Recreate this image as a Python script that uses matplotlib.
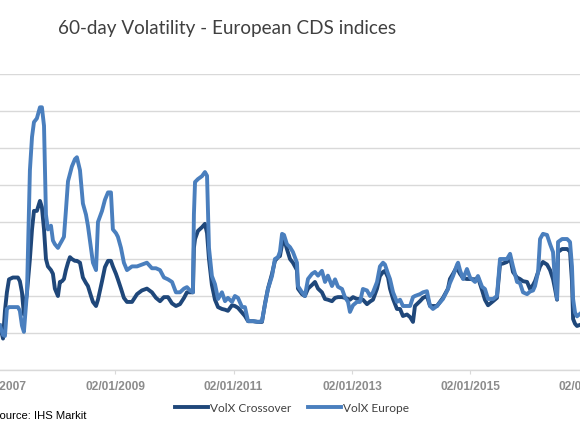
import pandas as pd
import matplotlib
matplotlib.use('Agg')
import matplotlib.pyplot as plt
import matplotlib.dates as mdates

# 60-day volatility
dates = [
    '2007-01-21', '2007-02-09', '2007-02-21', '2007-03-05', '2007-03-18', '2007-04-11',
    '2007-05-12', '2007-05-24', '2007-06-06', '2007-06-18', '2007-07-07', '2007-07-25',
    '2007-08-07', '2007-08-19', '2007-09-06', '2007-09-25', '2007-10-07', '2007-10-20',
    '2007-11-01', '2007-11-13', '2007-12-02', '2007-12-14', '2007-12-26', '2008-01-14',
    '2008-01-26', '2008-02-08', '2008-02-20', '2008-03-03', '2008-03-16', '2008-03-28',
    '2008-04-09', '2008-04-28', '2008-05-10', '2008-05-29', '2008-06-16', '2008-07-05',
    '2008-07-17', '2008-08-05', '2008-08-17', '2008-09-05', '2008-09-17', '2008-10-12',
    '2008-10-30', '2008-11-18', '2008-12-06', '2008-12-18', '2009-01-06', '2009-01-18',
    '2009-02-06', '2009-02-24', '2009-03-15', '2009-04-15', '2009-05-16', '2009-06-15',
    '2009-07-16', '2009-08-16', '2009-09-10', '2009-10-05', '2009-10-29', '2009-11-23',
    '2009-12-18', '2010-01-11', '2010-02-05', '2010-03-02', '2010-03-20', '2010-04-08',
    '2010-04-26', '2010-05-02', '2010-05-09', '2010-05-27', '2010-06-21', '2010-07-09',
    '2010-07-22', '2010-08-03', '2010-08-21', '2010-09-09', '2010-09-28', '2010-10-22',
    '2010-11-10', '2010-11-28', '2010-12-23', '2011-01-10', '2011-01-29', '2011-02-23',
    '2011-03-13', '2011-04-01', '2011-05-02', '2011-06-01', '2011-06-26', '2011-07-15',
    '2011-08-02', '2011-08-27', '2011-09-14', '2011-10-03', '2011-10-15', '2011-10-28',
    '2011-11-09', '2011-11-27', '2011-12-16', '2012-01-03', '2012-01-28', '2012-02-03',
    '2012-02-28', '2012-03-17', '2012-04-05', '2012-04-30', '2012-05-18', '2012-06-06',
    '2012-06-30', '2012-07-19', '2012-08-06', '2012-08-31', '2012-09-19', '2012-10-07',
    '2012-11-01', '2012-11-19', '2012-12-08', '2012-12-20', '2013-01-08', '2013-02-01',
    '2013-02-20', '2013-03-10', '2013-04-04', '2013-04-23', '2013-05-11', '2013-06-05',
    '2013-06-23', '2013-07-12', '2013-07-24', '2013-08-12', '2013-08-24', '2013-09-12',
    '2013-10-06', '2013-10-25', '2013-11-12', '2013-12-07', '2013-12-26', '2014-01-13',
    '2014-01-25', '2014-02-25', '2014-03-16', '2014-04-09', '2014-04-28', '2014-05-16',
    '2014-06-10', '2014-07-17', '2014-08-17', '2014-08-29', '2014-09-17', '2014-10-12',
    '2014-10-18', '2014-10-30', '2014-11-18', '2014-12-12', '2014-12-31', '2015-01-31',
    '2015-02-18', '2015-03-15', '2015-04-02', '2015-04-21', '2015-05-22', '2015-06-15',
    '2015-07-04', '2015-07-23', '2015-08-16', '2015-09-04', '2015-09-22', '2015-10-17',
    '2015-11-04', '2015-11-23', '2015-12-18', '2016-01-05', '2016-01-24', '2016-02-05',
    '2016-02-24', '2016-03-07', '2016-03-25', '2016-04-19', '2016-05-08', '2016-05-26',
    '2016-06-07', '2016-06-20', '2016-06-26', '2016-07-21', '2016-08-21', '2016-09-08',
    '2016-09-20', '2016-09-27', '2016-10-09', '2016-10-21', '2016-11-09',
]

volx_europe = [
    12, 9.5, 9.2, 16.5, 17, 17,
    17, 16, 12, 10.3, 21, 54,
    63, 67, 68, 71, 71, 66,
    42, 38, 39, 35, 34, 33,
    34, 35, 36, 43, 51, 53,
    55, 57, 57.5, 54, 45, 42,
    39, 33, 29, 27, 40, 43,
    46, 48, 48, 38, 37, 36,
    33, 29, 27, 28, 28, 28.5,
    29, 27.5, 27.5, 27, 25, 24.5,
    23.8, 21, 21, 22, 22.4, 21.5,
    21, 42, 50.8, 51.6, 52.4, 53.5,
    52.5, 33, 25.4, 23.2, 19.2, 21,
    18.6, 19.5, 18.4, 20, 19.5, 17,
    17, 13.2, 13.2, 13, 13.2, 17.8,
    21.9, 25.4, 30, 30.5, 32, 36.8,
    36.5, 34, 33.2, 31.9, 29, 22.7,
    21, 20, 24.6, 26, 26.5, 25.5,
    26.8, 23.8, 25.5, 22.7, 24.5, 22.5,
    21.9, 19.7, 18.4, 15.7, 17.5, 18.4,
    18.4, 21.9, 21.5, 20, 21, 23.8,
    28, 29, 28.5, 26, 24.6, 21,
    18.4, 19, 17.3, 17.3, 17.3, 19.7,
    20, 20.5, 21, 21.3, 17.3, 16.5,
    17.3, 19.2, 21.9, 23.5, 25.4, 28.5,
    29, 27, 24.6, 27.3, 25, 23.8,
    25.4, 22.5, 21.9, 19.2, 19.2, 20,
    30, 30, 30, 31.4, 28, 23.8,
    23.5, 21, 20.5, 21.2, 21.5, 22.7,
    26.5, 35.4, 36.8, 36.5, 34, 31.9,
    24, 19.2, 34.6, 35.4, 35.4, 34.6,
    28, 19.2, 15.5, 14.5, 15.2,
]

volx_crossover = [
    12, 8.5, 16, 21, 24.5, 25,
    25, 24, 21, 15, 21, 30,
    38, 43, 43, 45.7, 44, 38,
    30, 28, 27, 26, 22, 20,
    23.8, 24, 24.6, 27, 29, 30.5,
    30, 29.5, 29.5, 29, 25, 23.5,
    22.7, 20, 18.4, 17.3, 19, 24,
    27.8, 29.5, 29.5, 28, 26, 24.5,
    22, 19.5, 18.4, 18.4, 20.5, 21.5,
    22, 21, 19.5, 18.6, 19.7, 19.7,
    18, 17.3, 17.8, 19.5, 21, 21,
    21, 33, 35.4, 37.6, 38.6, 39.5,
    37, 30, 23, 19, 17, 16.5,
    16.3, 16, 17.5, 17.3, 16.8, 15.5,
    14.6, 13.2, 13.2, 13, 13, 18,
    22, 26, 29.5, 30.5, 30.8, 34,
    35.4, 32.7, 30, 29, 27, 22,
    20.5, 20, 22, 23, 23.8, 22,
    21, 19.2, 19, 18.6, 19.5, 19.7,
    19.7, 19.5, 19.2, 19, 19.7, 19.2,
    19.2, 19, 17.8, 18.5, 19, 22,
    25.4, 26.5, 26.8, 25, 22, 19.2,
    16.5, 16.5, 14.6, 15, 14.3, 13,
    17.3, 18.6, 19.5, 20, 17.3, 17.3,
    17.3, 19.5, 22, 24.6, 26, 28,
    27, 26, 24.8, 24.6, 24.6, 24.5,
    25, 21.6, 19, 17.5, 18.6, 19.5,
    28.6, 28.8, 29.2, 30.5, 26.5, 25,
    24.6, 24, 23.8, 21.9, 23, 24,
    26.5, 28, 29.2, 28.5, 27, 24.6,
    22, 19, 31.9, 32.7, 32.7, 32,
    24, 13.8, 12.5, 11.9, 12.2,
]

x = pd.to_datetime(dates)
tick_dates = pd.to_datetime(['2007-01-02', '2009-01-02', '2011-01-02', '2013-01-02',
                             '2015-01-02', '2017-01-02'])

dark = '#1f477a'
light = '#4a7fbe'

fig = plt.figure(figsize=(5.8, 4.35), dpi=100)
# the source picture is cropped on both sides, so the axes run past the figure edges
ax = fig.add_axes([-20 / 580, 0.1471, 620 / 580, 0.6805])

ax.plot(x, volx_crossover, color=dark, linewidth=2.8, label='VolX Crossover',
        solid_joinstyle='round', zorder=3)
ax.plot(x, volx_europe, color=light, linewidth=2.8, label='VolX Europe',
        solid_joinstyle='round', zorder=4)

ax.set_xlim(pd.Timestamp('2006-09-20'), pd.Timestamp('2017-03-12'))
ax.set_ylim(0, 80)
ax.set_yticks(range(0, 81, 10))
ax.yaxis.grid(True, color='#d9d9d9', linewidth=1.0)
ax.set_axisbelow(True)
ax.tick_params(axis='y', left=False, labelleft=False)

ax.set_xticks(tick_dates)
ax.xaxis.set_major_formatter(mdates.DateFormatter('%d/%m/%Y'))
ax.tick_params(axis='x', direction='out', length=3, color='#d9d9d9', pad=4,
               labelsize=8.6, labelcolor='#8c8c8c')
for lab in ax.get_xticklabels():
    lab.set_fontfamily('Liberation Sans')
    lab.set_fontweight('bold')

for side in ['top', 'left', 'right']:
    ax.spines[side].set_visible(False)
ax.spines['bottom'].set_color('#d9d9d9')
ax.spines['bottom'].set_linewidth(1.0)

fig.text(0.1, 0.9218, '60-day Volatility - European CDS indices', family='Lato',
         fontsize=13.6, color='#404040', ha='left', va='baseline')

leg = fig.legend(loc='center', bbox_to_anchor=(0.5035, 0.0615), ncol=2, frameon=False,
                 prop={'family': 'Lato', 'size': 8.6}, handlelength=2.75,
                 handletextpad=0.12, columnspacing=1.45, borderpad=0)
for t in leg.get_texts():
    t.set_color('#404040')

fig.text(0.15, 0.0437, 'Source: IHS Markit', family='Liberation Sans', fontsize=8.1,
         color='#000000', ha='right', va='center')

fig.savefig('out.png', dpi=100)
